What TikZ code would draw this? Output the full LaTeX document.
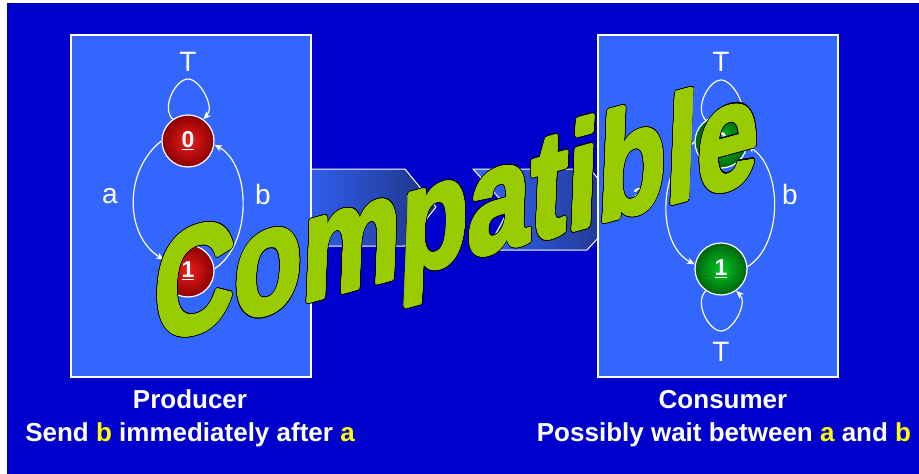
\documentclass[tikz,border=0pt]{standalone}
\usepackage{fontspec}
\setmainfont{Liberation Sans}
\usepackage{contour}
\usetikzlibrary{arrows.meta}

\begin{document}
\begin{tikzpicture}[x=1pt,y=1pt,
  stateball/.style={circle,draw=white,line width=1.2pt,minimum size=52pt,inner sep=0pt,text=white,font=\fontsize{23}{23}\selectfont\bfseries},
  redball/.style={stateball,inner color=redin,outer color=redout},
  greenball/.style={stateball,inner color=greenin,outer color=greenout},
  trans/.style={draw=white,line width=1.2pt,-{Stealth[length=8pt,width=6.5pt]}},
  lbl/.style={text=white,font=\fontsize{28}{28}\selectfont},
  caption/.style={text=white,anchor=base,font=\fontsize{26}{26}\selectfont\bfseries},
  chevron/.style={draw=white,line width=1pt,left color=boxblue,right color=navy},
  wordart/.style={transform shape,xscale=0.74,anchor=base,inner sep=0pt,font=\fontsize{150}{150}\selectfont\bfseries}]
\definecolor{bgblue}{RGB}{0,0,204}
\definecolor{boxblue}{RGB}{51,102,255}
\definecolor{navy}{RGB}{30,50,130}
\definecolor{wagreen}{RGB}{153,204,0}
\definecolor{redin}{RGB}{235,30,30}
\definecolor{redout}{RGB}{140,0,0}
\definecolor{greenin}{RGB}{0,200,40}
\definecolor{greenout}{RGB}{0,100,10}
\definecolor{hilite}{RGB}{255,255,0}

\useasboundingbox (0,0) rectangle (919,-474);
\fill[white] (0,0) rectangle (919,-474);
\fill[bgblue] (7,-3) rectangle (919,-474);

% Arrows between the boxes
\shade[chevron] (290,-169) -- (405,-169) -- (436,-207) -- (405,-246) -- (290,-246) -- cycle;
\shade[chevron] (473,-169) -- (590,-169) -- (624,-210) -- (587,-250) -- (487,-250) -- (509,-209) -- cycle;

% Boxes
\draw[white,line width=1.2pt,fill=boxblue] (71,-35) rectangle (311,-377);
\draw[white,line width=1.2pt,fill=boxblue] (598,-35) rectangle (838,-377);

% Producer
\node[redball] (prod0) at (188,-141) {\underline{0}};
\node[redball] (prod1) at (188,-271) {\underline{1}};
\coordinate (prodtop) at (188,-79);
\draw[trans] (prod0.125) .. controls +(135:17) and +(180:12) .. (prodtop)
  .. controls +(0:12) and +(45:17) .. (prod0.55);
\draw[trans] (prod0.west) .. controls (124,-170) and (124,-235) .. (prod1.155);
\draw[trans] (prod1.5) .. controls (252,-245) and (252,-165) .. (prod0.-8);
\node[lbl] (prodT) at (188,-62) {T};
\node[lbl] (proda) at (110,-196) {a};
\node[lbl] (prodb) at (263,-194) {b};

% Consumer
\node[greenball] (cons0) at (721,-142) {\underline{0}};
\node[greenball] (cons1) at (721,-269) {\underline{1}};
\coordinate (constop) at (721,-80);
\coordinate (consbot) at (721,-331);
\draw[trans] (cons0.125) .. controls +(135:17) and +(180:12) .. (constop)
  .. controls +(0:12) and +(45:17) .. (cons0.55);
\draw[trans] (cons0.west) .. controls (657,-170) and (657,-245) .. (cons1.170);
\draw[trans] (cons1.5) .. controls (783,-245) and (783,-168) .. (cons0.-8);
\draw[trans] (cons1.-125) .. controls +(-135:17) and +(180:12) .. (consbot)
  .. controls +(0:12) and +(-45:17) .. (cons1.-55);
\node[lbl] (consT) at (721,-62) {T};
\node[lbl] (consa) at (640,-196) {a};
\node[lbl] (consb) at (790,-194) {b};
\node[lbl] (consT2) at (721,-352) {T};

% Captions
\node[caption] (prodname) at (190,-408) {Producer};
\node[caption] (prodtext) at (190,-441) {Send \textcolor{hilite}{b} immediately after \textcolor{hilite}{a}};
\node[caption] (consname) at (723,-408) {Consumer};
\node[caption] (constext) at (724,-441) {Possibly wait between \textcolor{hilite}{a} and \textcolor{hilite}{b}};

% Word art
\begin{scope}[shift={(455,-262)},yslant=0.27,xslant=0.04]
\node[wordart,text=black] (compatedge) at (0,0)
  {\contourlength{3.1pt}\contournumber{32}\contour{black}{Compatible}};
\node[wordart,text=wagreen] (compat) at (0,0)
  {\contourlength{2pt}\contournumber{32}\contour{wagreen}{Compatible}};
\end{scope}
\end{tikzpicture}
\end{document}
